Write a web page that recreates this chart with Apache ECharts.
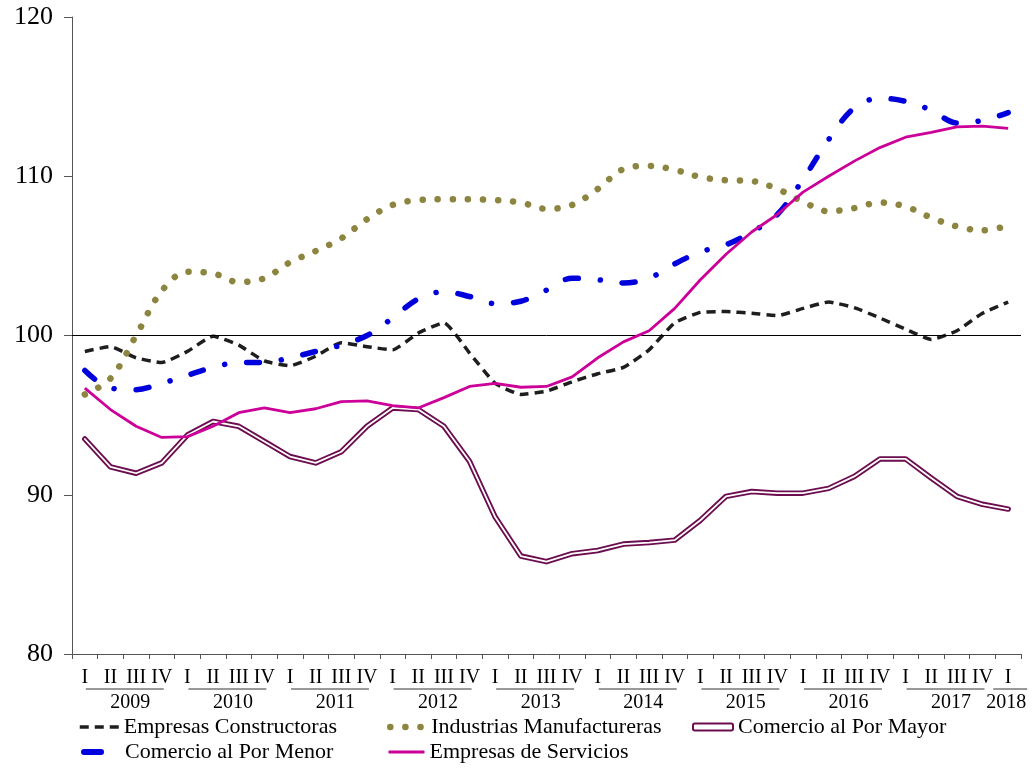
<!DOCTYPE html>
<html>
<head>
<meta charset="utf-8">
<script src="https://cdn.jsdelivr.net/npm/echarts@6/dist/echarts.min.js"></script>
<style>
html,body{margin:0;padding:0;background:#fff;}
#c{width:1033px;height:768px;}
</style>
</head>
<body>
<div id="c"></div>
<script>
// ---- data ----
const years = ['2009','2010','2011','2012','2013','2014','2015','2016','2017','2018'];
const quartersPerYear = [4,4,4,4,4,4,4,4,4,1];
const quarterLabels = ['I','II','III','IV'];
const yTicks = [80, 90, 100, 110, 120];

const constructoras = [99.0, 99.3, 98.6, 98.3, 99.0, 99.95, 99.4, 98.4, 98.1, 98.7, 99.55, 99.3, 99.1, 100.15, 100.8, 98.9, 97.0, 96.3, 96.5, 97.1, 97.6, 98.0, 99.1, 100.8, 101.45, 101.5, 101.4, 101.25, 101.7, 102.1, 101.75, 101.1, 100.4, 99.75, 100.3, 101.4, 102.1];
const manufactureras = [96.3, 97.3, 100.0, 102.8, 104.0, 103.9, 103.35, 103.6, 104.6, 105.3, 106.1, 107.3, 108.2, 108.5, 108.55, 108.55, 108.5, 108.35, 107.95, 108.2, 109.2, 110.45, 110.65, 110.4, 109.95, 109.75, 109.7, 109.2, 108.4, 107.8, 108.0, 108.35, 108.1, 107.4, 106.85, 106.6, 106.9];
const porMayor = [93.5, 91.75, 91.35, 92.0, 93.75, 94.6, 94.3, 93.35, 92.4, 92.0, 92.7, 94.3, 95.45, 95.35, 94.3, 92.1, 88.6, 86.15, 85.8, 86.3, 86.5, 86.9, 87.0, 87.15, 88.4, 89.9, 90.2, 90.1, 90.1, 90.4, 91.15, 92.25, 92.25, 91.05, 89.9, 89.4, 89.1];
const porMenor = [97.8, 96.7, 96.6, 97.0, 97.5, 98.0, 98.3, 98.3, 98.6, 99.0, 99.4, 100.0, 101.1, 102.3, 102.75, 102.45, 102.0, 102.15, 102.85, 103.6, 103.5, 103.3, 103.6, 104.5, 105.25, 105.7, 106.5, 107.6, 109.8, 112.3, 114.3, 114.9, 114.7, 114.15, 113.35, 113.5, 114.0];
const servicios = [96.7, 95.35, 94.3, 93.6, 93.65, 94.3, 95.15, 95.45, 95.15, 95.4, 95.85, 95.9, 95.6, 95.45, 96.1, 96.8, 97.0, 96.75, 96.8, 97.4, 98.6, 99.6, 100.3, 101.7, 103.5, 105.1, 106.5, 107.6, 109.0, 110.0, 110.95, 111.8, 112.45, 112.75, 113.1, 113.15, 113.0];

const names = ['Empresas Constructoras','Industrias Manufactureras','Comercio al Por Mayor','Comercio al Por Menor','Empresas de Servicios'];

// ---- derived ----
const categories = [];
const yearGroups = [];
years.forEach((y, i) => {
  const start = categories.length;
  for (let q = 0; q < quartersPerYear[i]; q++) categories.push(y + ' ' + quarterLabels[q]);
  yearGroups.push([start, categories.length - 1]);
});

const FONT = '"Liberation Serif","Times New Roman",serif';
const C_BLACK = '#1e1e1e', C_OLIVE = '#8C8540', C_PURPLE = '#6B0D4F', C_BLUE = '#0000DD', C_MAG = '#CC0099';

function renderYear(params, api) {
  const s = api.value(0), e = api.value(1);
  const a = api.coord([s, yTicks[0]]);
  const b = api.coord([e, yTicks[0]]);
  const base = a[1];
  let x0, x1, cx;
  if (e > s) { x0 = a[0] + 1; x1 = b[0] + 2; cx = (a[0] + b[0]) / 2 + 7; }
  else { x0 = a[0] - 15; x1 = a[0] + 19; cx = a[0] - 2; }
  return {
    type: 'group',
    children: [
      { type: 'line', shape: { x1: x0, y1: base + 35, x2: x1, y2: base + 35 }, style: { stroke: '#333', lineWidth: 1 } },
      { type: 'text', style: { text: years[params.dataIndex], x: cx, y: base + 49, align: 'center', verticalAlign: 'middle', font: '20px ' + FONT, fill: '#000' } }
    ]
  };
}

const legendText = { fontFamily: FONT, fontSize: 22, color: '#000', lineHeight: 22 };
const hiddenSym = { opacity: 0, borderWidth: 0 };

const chart = echarts.init(document.getElementById('c'), null, { renderer: 'canvas' });
chart.setOption({
  animation: false,
  backgroundColor: '#fff',
  grid: { left: 72, right: 12, top: 17, bottom: 114, containLabel: false },
  xAxis: {
    type: 'category',
    data: categories,
    boundaryGap: true,
    axisLine: { lineStyle: { color: '#555', width: 1 } },
    axisTick: { show: true, length: 5, lineStyle: { color: '#555' } },
    axisLabel: {
      interval: 0, margin: 14,
      fontFamily: FONT, fontSize: 20, color: '#000',
      formatter: v => v.split(' ')[1]
    },
    splitLine: { show: false }
  },
  yAxis: {
    type: 'value',
    min: yTicks[0], max: yTicks[yTicks.length - 1], interval: 10,
    axisLine: { show: true, lineStyle: { color: '#555', width: 1 } },
    axisTick: { show: true, length: 8, lineStyle: { color: '#555' } },
    axisLabel: { margin: 19, fontFamily: FONT, fontSize: 26, color: '#000' },
    splitLine: { show: false }
  },
  legend: [
    { data: [names[0]], left: 78, top: 716, padding: 0, itemWidth: 39, itemHeight: 10, itemStyle: hiddenSym,
      lineStyle: { width: 3.5, type: [9, 6] }, textStyle: legendText, selectedMode: false },
    { data: [names[1]], left: 387, top: 716, padding: 0, itemWidth: 36, itemHeight: 10, itemStyle: hiddenSym,
      lineStyle: { width: 6.5, type: [0.1, 15], cap: 'round' }, textStyle: legendText, selectedMode: false },
    { data: [{ name: names[2], icon: 'roundRect', itemStyle: { color: '#fff', borderColor: C_PURPLE, borderWidth: 2, opacity: 1 } }],
      left: 692, top: 716, padding: 0, itemWidth: 40, itemHeight: 7, textStyle: legendText, selectedMode: false },
    { data: [names[3]], left: 81, top: 741, padding: 0, itemWidth: 17, itemHeight: 10, itemStyle: hiddenSym,
      lineStyle: { width: 6, type: 'solid', cap: 'round' },
      textStyle: Object.assign({}, legendText, { padding: [0, 0, 0, 19] }), selectedMode: false },
    { data: [names[4]], left: 387, top: 741, padding: 0, itemWidth: 36, itemHeight: 10, itemStyle: hiddenSym,
      lineStyle: { width: 3 }, textStyle: legendText, selectedMode: false }
  ],
  series: [
    {
      name: names[0], type: 'line', data: constructoras, symbol: 'none', smooth: 0.15,
      lineStyle: { color: C_BLACK, width: 3.5, type: [9, 6] }, itemStyle: { color: C_BLACK },
      z: 3,
      markLine: {
        silent: true, symbol: 'none', label: { show: false },
        lineStyle: { color: '#000', width: 1, type: 'solid' },
        data: [{ yAxis: 100 }]
      }
    },
    {
      name: names[1], type: 'line', data: manufactureras, symbol: 'none', smooth: 0.35,
      lineStyle: { color: C_OLIVE, width: 6.5, type: [0.1, 15], cap: 'round' }, itemStyle: { color: C_OLIVE },
      z: 4
    },
    {
      name: names[2], type: 'line', data: porMayor, symbol: 'none', smooth: false,
      lineStyle: { color: C_PURPLE, width: 5.5, join: 'round', cap: 'round' }, itemStyle: { color: C_PURPLE },
      z: 5
    },
    {
      name: names[2], type: 'line', data: porMayor, symbol: 'none', smooth: false,
      lineStyle: { color: '#fff', width: 1.8, join: 'round', cap: 'round' }, itemStyle: { color: '#fff' },
      z: 6
    },
    {
      name: names[3], type: 'line', data: porMenor, symbol: 'none', smooth: 0.35,
      lineStyle: { color: C_BLUE, width: 5.5, type: [13, 22, 0.1, 22], cap: 'round' }, itemStyle: { color: C_BLUE },
      z: 7
    },
    {
      name: names[4], type: 'line', data: servicios, symbol: 'none', smooth: false,
      lineStyle: { color: C_MAG, width: 2.8 }, itemStyle: { color: C_MAG },
      z: 8
    },
    {
      type: 'custom', name: 'years', renderItem: renderYear,
      data: yearGroups, encode: { x: [0, 1] }, clip: false, silent: true, z: 10
    }
  ]
});
</script>
</body>
</html>
